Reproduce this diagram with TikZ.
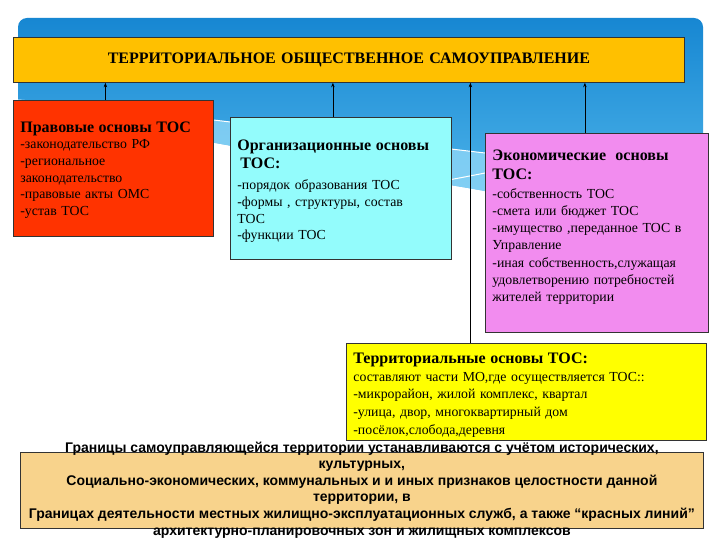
\documentclass[tikz,border=0pt]{standalone}
\usepackage{fontspec}
\setmainfont{Liberation Serif}
\newfontfamily\arialbold{Liberation Sans}
\usetikzlibrary{arrows.meta,calc}
\definecolor{bgtop}{HTML}{1787D2}
\definecolor{bgbot}{HTML}{5CC0F0}
\definecolor{bandc}{HTML}{8ED6F7}
\definecolor{titlec}{HTML}{FFC000}
\definecolor{redc}{HTML}{FF3300}
\definecolor{cyanc}{HTML}{93FCFC}
\definecolor{pinkc}{HTML}{F28CEF}
\definecolor{yellowc}{HTML}{FFFF00}
\definecolor{wheatc}{HTML}{F8D38C}
\tikzset{
  boxbase/.style={draw=black!80, line width=0.8pt, rectangle, inner ysep=0pt, inner xsep=7pt, align=left, anchor=north west},
  arr/.style={line width=0.7pt, -{Stealth[length=4.5pt,width=3.5pt]}},
}
\newcommand{\headfont}{\bfseries\fontsize{16}{17}\selectfont}
\begin{document}
\begin{tikzpicture}[x=1pt,y=-1pt]
\useasboundingbox (0,0) rectangle (720,540);
\fill[white] (0,0) rectangle (720,540);
% background
\begin{scope}
\clip[rounded corners=9pt] (18,160) -- (18,18) -- (703,18) -- (703,300) -- cycle;
\shade[top color=bgtop, bottom color=bgbot]
  (18,160) -- (18,18) -- (703,18) -- (703,250)
  .. controls (650,228) and (560,204) .. (468,188)
  .. controls (300,160) and (120,122) .. (18,114) -- cycle;
\fill[bandc, opacity=0.8]
  (18,100) .. controls (150,110) and (330,135) .. (485,153)
  .. controls (580,165) and (650,178) .. (703,190) -- (703,250)
  .. controls (650,228) and (560,204) .. (468,188)
  .. controls (300,160) and (120,122) .. (18,114) -- cycle;
\draw[white, line width=1pt] (18,100) .. controls (150,110) and (330,135) .. (485,153)
  .. controls (580,165) and (650,178) .. (703,190);
\draw[white, line width=1pt] (300,205) .. controls (380,192) and (430,184) .. (485,173)
  .. controls (560,162) and (640,152) .. (703,148);
\end{scope}
% title
\node[boxbase, fill=titlec, minimum width=671pt, minimum height=45pt, inner xsep=0pt, align=center,
  text width=671pt, font=\bfseries\fontsize{16}{18}\selectfont] (title) at (13,37)
  {ТЕРРИТОРИАЛЬНОЕ ОБЩЕСТВЕННОЕ САМОУПРАВЛЕНИЕ};
% red
\node[boxbase, fill=redc, minimum height=136pt, text width=186pt, font=\fontsize{13.8}{16.7}\selectfont] (red) at (13,100)
  {{\headfont\rule{0pt}{14pt}Правовые основы ТОС}\\
   -законодательство РФ\\-региональное\\законодательство\\-правовые акты ОМС\\-устав ТОС};
% cyan
\node[boxbase, fill=cyanc, minimum height=142pt, text width=207pt, font=\fontsize{13.8}{16.7}\selectfont] (cyan) at (230,117)
  {{\headfont\rule{0pt}{17pt}Организационные основы}\\[1.3pt]
   {\headfont\hspace{3pt}ТОС:}\\[4.3pt]
   -порядок образования ТОС\\-формы , структуры, состав\\ТОС\\-функции ТОС};
% pink
\node[boxbase, fill=pinkc, minimum height=199pt, text width=209pt, font=\fontsize{13.8}{17.2}\selectfont] (pink) at (485,133)
  {{\headfont\rule{0pt}{14pt}Экономические\ \ основы}\\[1pt]
   {\headfont ТОС:}\\[2pt]
   -собственность ТОС\\-смета или бюджет ТОС\\-имущество ,переданное ТОС в\\Управление\\-иная собственность,служащая\\удовлетворению потребностей\\жителей территории\\\mbox{}};
% yellow
\node[boxbase, fill=yellowc, minimum height=97pt, text width=346pt, font=\fontsize{13.8}{17.7}\selectfont] (yellow) at (346,343)
  {{\headfont\rule{0pt}{17pt}Территориальные основы ТОС:}\\
   составляют части МО,где осуществляется ТОС::\\-микрорайон, жилой комплекс, квартал\\-улица, двор, многоквартирный дом\\-посёлок,слобода,деревня};
% bottom
\node[draw=black!80, line width=0.8pt, fill=wheatc, minimum width=683pt, minimum height=76pt, inner sep=0pt, anchor=north west] (bottom) at (20,452) {};
\node[align=center, inner sep=0pt, font=\arialbold\bfseries\fontsize{14}{16.6}\selectfont] (btext) at ($(bottom.center)+(0,-0.5)$)
  {Границы самоуправляющейся территории устанавливаются с учётом исторических,\\
   культурных,\\
   Социально-экономических, коммунальных и и иных признаков целостности данной\\
   территории, в\\
   Границах деятельности местных жилищно-эксплуатационных служб, а также “красных линий”\\
   архитектурно-планировочных зон и жилищных комплексов};
% connectors
\draw[arr] ([xshift=-8pt]red.north) -- ([xshift=-8pt]red.north |- title.south);
\draw[arr] ([xshift=-8pt]cyan.north) -- ([xshift=-8pt]cyan.north |- title.south);
\draw[arr] ([xshift=-12pt]pink.north) -- ([xshift=-12pt]pink.north |- title.south);
\draw[arr] ([xshift=-56pt]yellow.north) -- ([xshift=-56pt]yellow.north |- title.south);
\end{tikzpicture}
\end{document}
